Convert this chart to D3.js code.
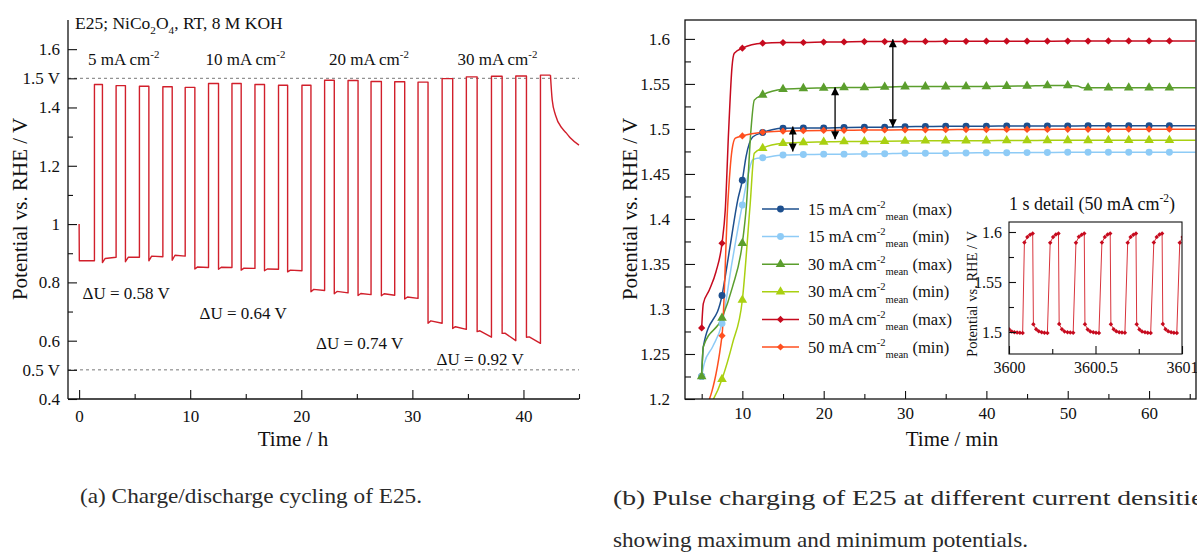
<!DOCTYPE html>
<html><head><meta charset="utf-8">
<script src="https://cdn.jsdelivr.net/npm/d3@7"></script>
<style>
html,body{margin:0;padding:0;background:#fff;}
svg, svg text{font-family:"Liberation Serif","DejaVu Serif","Times New Roman",Times,serif;}
svg{display:block;}
</style></head><body>
<svg id="fig" width="1197" height="553"></svg>
<script>
// ---------- (a) charge/discharge cycling: per-cycle readings ----------
const currentLabels = ["5", "10", "20", "30"];
const deltaU = ["0.58", "0.64", "0.74", "0.92"];
const ocvT = [0], ocvV = [1.0];
const chargeOn  = [1.38,3.33,5.43,7.54,9.55, 11.65,13.76,15.83,17.95,20.06, 22.10,24.21,26.28,28.41,30.51, 32.68,34.86,37.12,39.31,41.53];
const chargeOff = [2.10,4.17,6.28,8.38,10.42, 12.55,14.59,16.69,18.77,20.87, 22.97,25.11,27.21,29.31,31.41, 33.63,35.83,38.08,40.27,42.43];
const chargeV   = [1.479,1.475,1.473,1.471,1.469, 1.482,1.482,1.479,1.476,1.476, 1.4935,1.4925,1.489,1.488,1.487, 1.499,1.505,1.507,1.508,1.511];
const lowDip    = [0.874,0.868,0.871,0.874,0.876, 0.846,0.845,0.842,0.840,0.836, 0.768,0.761,0.755,0.754,0.743, 0.660,0.642,0.631,0.625,0.612];
const lowLevel  = [0.874,0.882,0.886,0.890,0.893, 0.853,0.852,0.849,0.846,0.842, 0.776,0.769,0.762,0.761,0.750, 0.668,0.648,0.634,0.626,0.613];
const lowEnd    = [0.874,0.886,0.886,0.888,0.890, 0.851,0.851,0.848,0.845,0.840, 0.772,0.764,0.758,0.756,0.745, 0.660,0.639,0.612,0.600,0.591];
const restT = [42.43, 42.59, 42.88, 43.49, 43.87, 44.23, 45.0];
const restV = [1.511, 1.425, 1.374, 1.328, 1.312, 1.295, 1.271];
const leftYMajor = [0.4,0.5,0.6,0.8,1.0,1.2,1.4,1.5,1.6];
const leftYMinor = [0.7,0.9,1.1,1.3];
const leftXMajor = [0,10,20,30,40];
const leftXMinor = [5,15,25,35,45];

// ---------- (b) pulse charging: max/min potentials ----------
const markerT = [5,7.5,10,12.5,15,17.5,20,22.5,25,27.5,30,32.5,35,37.5,40,42.5,45,47.5,50,52.5,55,57.5,60,62.5];
const max15 = [1.225,1.315,1.443,1.496,1.5007,1.501,1.501,1.5015,1.5018,1.502,1.5025,1.5027,1.503,1.503,1.503,1.5032,1.5032,1.5033,1.5033,1.5035,1.5035,1.5035,1.5036,1.5036];
const min15 = [1.225,1.284,1.4156,1.468,1.471,1.4715,1.472,1.472,1.4722,1.4725,1.473,1.473,1.473,1.4733,1.4735,1.4735,1.4737,1.4738,1.474,1.474,1.474,1.474,1.4742,1.4742];
const max30 = [1.225,1.29,1.373,1.5378,1.544,1.545,1.5455,1.546,1.546,1.5465,1.547,1.547,1.547,1.5472,1.5472,1.5475,1.5477,1.5482,1.5482,1.5458,1.5458,1.5458,1.5458,1.5458];
const min30 = [1.18,1.222,1.31,1.4786,1.484,1.485,1.4855,1.486,1.486,1.4863,1.4865,1.4868,1.487,1.487,1.487,1.4872,1.4872,1.4873,1.4873,1.4873,1.4874,1.4874,1.4875,1.4875];
const max50 = [1.279,1.373,1.5897,1.5952,1.5959,1.596,1.5965,1.5967,1.597,1.597,1.5972,1.5972,1.5973,1.5973,1.5975,1.5975,1.5975,1.5975,1.5976,1.5976,1.5977,1.5977,1.5977,1.5978];
const min50 = [1.18,1.2703,1.4922,1.4963,1.4975,1.498,1.4983,1.4985,1.4987,1.4988,1.499,1.499,1.4992,1.4993,1.4993,1.4994,1.4995,1.4995,1.4996,1.4996,1.4996,1.4997,1.4997,1.4997];
// extra line samples between markers (rise region and right end)
const max15Extra = [[5.2,1.258],[8.5,1.37],[9.43,1.421],[10.45,1.469],[11.27,1.491],[65.7,1.5036]];
const min15Extra = [[5.32,1.2396],[6.35,1.258],[8.7,1.35],[11.27,1.4656],[11.6,1.467],[65.7,1.4742]];
const max30Extra = [[5.2,1.258],[8.8,1.3248],[10.5,1.415],[11.06,1.499],[11.47,1.532],[51.2,1.5478],[51.8,1.5458],[65.7,1.5458]];
const min30Extra = [[8.8,1.262],[10.95,1.415],[11.47,1.473],[65.7,1.4875]];
const max50Extra = [[5.2,1.306],[5.94,1.321],[6.76,1.3414],[7.9,1.41],[8.32,1.499],[8.73,1.569],[9.01,1.584],[65.7,1.5978]];
const min50Extra = [[8.2,1.415],[8.73,1.4767],[9.14,1.4897],[65.7,1.4997]];
const legendCurrent = ["15","15","30","30","50","50"];
const legendKind = ["max","min","max","min","max","min"];
const arrowT = [16.2, 21.4, 28.5];
const arrowTop = [1.5026, 1.5463, 1.5997];
const arrowBottom = [1.4748, 1.4885, 1.5019];
const rightYMajor = [1.2,1.25,1.3,1.35,1.4,1.45,1.5,1.55,1.6];
const rightYMinor = [1.225,1.275,1.325,1.375,1.425,1.475,1.525,1.575];
const rightXMajor = [10,20,30,40,50,60];
const rightXMinor = [5,15,25,35,45,55,65];

// ---------- inset: 1 s detail at 50 mA cm-2 ----------
const insetT = [3600.000,3600.016,3600.031,3600.047,3600.063,3600.079,
  3600.089,3600.106,3600.122,3600.137,3600.141,3600.157,3600.172,3600.189,3600.205,3600.222,
  3600.238,3600.255,3600.271,3600.286,3600.290,3600.306,3600.321,3600.338,3600.354,3600.371,
  3600.387,3600.404,3600.420,3600.435,3600.439,3600.455,3600.470,3600.487,3600.503,3600.520,
  3600.537,3600.554,3600.570,3600.585,3600.589,3600.605,3600.620,3600.637,3600.653,3600.670,
  3600.686,3600.703,3600.719,3600.734,3600.738,3600.754,3600.769,3600.786,3600.802,3600.819,
  3600.837,3600.854,3600.870,3600.885,3600.889,3600.905,3600.920,3600.937,3600.953,3600.970,
  3600.987,3601.004];
const insetV = [1.5027,1.5005,1.4998,1.4994,1.4992,1.4991,
  1.5894,1.5950,1.5973,1.5984,1.5077,1.5027,1.5007,1.4997,1.4993,1.4991,
  1.5892,1.5951,1.5974,1.5985,1.5079,1.5028,1.5006,1.4998,1.4994,1.4992,
  1.5893,1.5952,1.5973,1.5984,1.5078,1.5026,1.5006,1.4997,1.4993,1.4991,
  1.5894,1.5951,1.5974,1.5985,1.5078,1.5027,1.5007,1.4998,1.4994,1.4992,
  1.5893,1.5950,1.5973,1.5984,1.5077,1.5026,1.5006,1.4997,1.4993,1.4991,
  1.5894,1.5951,1.5974,1.5985,1.5079,1.5027,1.5007,1.4998,1.4993,1.4991,
  1.5893,1.5950];
const insetYMajor = [1.5,1.55,1.6], insetYMinor = [1.525,1.575];
const insetXMajor = [3600,3600.5,3601], insetXMinor = [3600.25,3600.75];

// ---------------------------------------------------------------
const SERIF = "'Liberation Serif','DejaVu Serif','Times New Roman',Times,serif";
const svg = d3.select("#fig").attr("font-family", SERIF);
const INK = "#111";

function rich(text, parts, base) {
  let shift = 0;
  parts.forEach(([s, kind]) => {
    const target = kind === "sup" ? -base * 0.42 : kind === "sub" ? base * 0.32 : 0;
    text.append("tspan").attr("dy", target - shift)
      .attr("font-size", kind === "n" ? base : base * 0.64).text(s);
    shift = target;
  });
}

function styleAxis(g, size) {
  g.attr("font-family", SERIF).attr("font-size", null);
  g.select(".domain").remove();
  g.selectAll(".tick line").attr("stroke", INK).attr("stroke-width", 1.1);
  g.selectAll(".tick text").attr("fill", INK).attr("font-size", size);
}

// ================= panel (a) =================
const xL = d3.scaleLinear([-1, 45], [68, 579]);
const yL = d3.scaleLinear([0.4, 1.7], [399, 20]);
const gA = svg.append("g");

// reference lines at 1.5 V and 0.5 V
gA.selectAll("line.ref").data([1.5, 0.5]).join("line")
  .attr("x1", xL(-1)).attr("x2", xL(45))
  .attr("y1", d => yL(d)).attr("y2", d => yL(d))
  .attr("stroke", "#777").attr("stroke-width", 1).attr("stroke-dasharray", "3,3");

const fmtL = d => (d === 1.5 || d === 0.5) ? d3.format(".1f")(d) + " V" : (d === 1 ? "1" : d3.format(".1f")(d));
const ayL = gA.append("g").attr("transform", `translate(${xL(-1)},0)`)
  .call(d3.axisLeft(yL).tickValues(leftYMajor).tickSize(-9).tickPadding(8).tickFormat(fmtL));
styleAxis(ayL, 17);
const ayL2 = gA.append("g").attr("transform", `translate(${xL(-1)},0)`)
  .call(d3.axisLeft(yL).tickValues(leftYMinor).tickSize(-5).tickFormat(""));
styleAxis(ayL2, 17);
const axL = gA.append("g").attr("transform", `translate(0,${yL(0.4)})`)
  .call(d3.axisBottom(xL).tickValues(leftXMajor).tickSize(-9).tickPadding(11).tickFormat(d3.format("d")));
styleAxis(axL, 17);
const axL2 = gA.append("g").attr("transform", `translate(0,${yL(0.4)})`)
  .call(d3.axisBottom(xL).tickValues(leftXMinor).tickSize(-5).tickFormat(""));
styleAxis(axL2, 17);
gA.append("line").attr("x1", xL(-1)).attr("x2", xL(-1)).attr("y1", yL(1.7)).attr("y2", yL(0.4))
  .attr("stroke", INK).attr("stroke-width", 1.3);
gA.append("line").attr("x1", xL(-1)).attr("x2", xL(45)).attr("y1", yL(0.4)).attr("y2", yL(0.4))
  .attr("stroke", INK).attr("stroke-width", 1.3);

// cycling trace assembled from the per-cycle readings
const cyc = [[ocvT[0], ocvV[0]], [ocvT[0] + 0.02, lowDip[0]]];
chargeOn.forEach((on, i) => {
  if (i > 0) {
    cyc.push([chargeOff[i - 1], lowDip[i]]);
    cyc.push([chargeOff[i - 1] + 0.25, lowLevel[i]]);
  }
  cyc.push([on, lowEnd[i]]);
  cyc.push([on, chargeV[i]]);
  cyc.push([chargeOff[i], chargeV[i]]);
});
const lineL = d3.line().x(d => xL(d[0])).y(d => yL(d[1]));
gA.append("path").attr("d", lineL(cyc)).attr("fill", "none")
  .attr("stroke", "#d11f2b").attr("stroke-width", 1.4).attr("stroke-linejoin", "round");
gA.append("path").attr("d", lineL.curve(d3.curveMonotoneX)(restT.map((t, i) => [t, restV[i]])))
  .attr("fill", "none").attr("stroke", "#d11f2b").attr("stroke-width", 1.4);

// annotations
const ttl = gA.append("text").attr("x", 75).attr("y", 28.5).attr("fill", INK);
rich(ttl, [["E25; NiCo","n"],["2","sub"],["O","n"],["4","sub"],[", RT, 8 M KOH","n"]], 17.5);
const curX = [88, 205.5, 329, 457.5];
currentLabels.forEach((c, i) => {
  const t = gA.append("text").attr("x", curX[i]).attr("y", 65).attr("fill", INK);
  rich(t, [[c + " mA cm","n"],["-2","sup"]], 17);
});
const duPos = [[82.5, 298.5], [199.5, 318.5], [316, 348.5], [436.5, 365]];
deltaU.forEach((u, i) => {
  gA.append("text").attr("x", duPos[i][0]).attr("y", duPos[i][1]).attr("fill", INK)
    .attr("font-size", 17).text("\u0394U = " + u + " V");
});
gA.append("text").attr("transform", "translate(27,209) rotate(-90)").attr("text-anchor", "middle")
  .attr("font-size", 21).attr("fill", INK).text("Potential vs. RHE / V");
gA.append("text").attr("x", 293).attr("y", 446).attr("text-anchor", "middle")
  .attr("font-size", 21).attr("fill", INK).text("Time / h");

// ================= panel (b) =================
const xR = d3.scaleLinear([2.95, 65.77], [685, 1196]);
const yR = d3.scaleLinear([1.2, 1.621], [399, 20]);
const gB = svg.append("g");
const defs = svg.append("defs");
defs.append("clipPath").attr("id", "clipR")
  .append("rect").attr("x", 685).attr("y", 20).attr("width", 511).attr("height", 379);

const series = [
  { v: max15, extra: max15Extra, color: "#1d4f8e", shape: "circle" },
  { v: min15, extra: min15Extra, color: "#8ecbf6", shape: "circle" },
  { v: max30, extra: max30Extra, color: "#5b9e2d", shape: "triangle" },
  { v: min30, extra: min30Extra, color: "#a9d011", shape: "triangle" },
  { v: max50, extra: max50Extra, color: "#c60a1e", shape: "diamond" },
  { v: min50, extra: min50Extra, color: "#ff4f1f", shape: "diamond" }
];
const symbolOf = s => s === "circle" ? d3.symbol(d3.symbolCircle, 38)
  : s === "triangle" ? d3.symbol(d3.symbolTriangle, 40) : d3.symbol(d3.symbolSquare, 26);
const rotOf = s => s === "diamond" ? " rotate(45)" : "";

const plotB = gB.append("g").attr("clip-path", "url(#clipR)");
const lineR = d3.line().x(d => xR(d[0])).y(d => yR(d[1])).curve(d3.curveMonotoneX);
series.forEach(s => {
  const pts = markerT.map((t, i) => [t, s.v[i]]).concat(s.extra).sort((a, b) => a[0] - b[0]);
  plotB.append("path").attr("d", lineR(pts)).attr("fill", "none")
    .attr("stroke", s.color).attr("stroke-width", 1.5);
});
series.forEach(s => {
  plotB.selectAll(null).data(markerT.map((t, i) => [t, s.v[i]])).join("path")
    .attr("d", symbolOf(s.shape))
    .attr("transform", d => `translate(${xR(d[0])},${yR(d[1])})${rotOf(s.shape)}`)
    .attr("fill", s.color);
});

// difference arrows
defs.append("marker").attr("id", "ah").attr("viewBox", "0 0 10 10")
  .attr("refX", 10).attr("refY", 5).attr("markerWidth", 9).attr("markerHeight", 8)
  .attr("markerUnits", "userSpaceOnUse").attr("orient", "auto-start-reverse")
  .append("path").attr("d", "M0,0 L10,5 L0,10 z").attr("fill", "#000");
arrowT.forEach((t, i) => {
  gB.append("line").attr("x1", xR(t)).attr("x2", xR(t))
    .attr("y1", yR(arrowTop[i])).attr("y2", yR(arrowBottom[i]))
    .attr("stroke", "#000").attr("stroke-width", 1.3)
    .attr("marker-start", "url(#ah)").attr("marker-end", "url(#ah)");
});

// axes and frame
const ayR = gB.append("g").attr("transform", `translate(685,0)`)
  .call(d3.axisLeft(yR).tickValues(rightYMajor).tickSize(-10).tickPadding(15).tickFormat(d => String(+d.toFixed(2))));
styleAxis(ayR, 17);
const ayR2 = gB.append("g").attr("transform", `translate(685,0)`)
  .call(d3.axisLeft(yR).tickValues(rightYMinor).tickSize(-6).tickFormat(""));
styleAxis(ayR2, 17);
const axR = gB.append("g").attr("transform", `translate(0,399)`)
  .call(d3.axisBottom(xR).tickValues(rightXMajor).tickSize(-8).tickPadding(8).tickFormat(d3.format("d")));
styleAxis(axR, 17);
const axR2 = gB.append("g").attr("transform", `translate(0,399)`)
  .call(d3.axisBottom(xR).tickValues(rightXMinor).tickSize(-5).tickFormat(""));
styleAxis(axR2, 17);
gB.append("rect").attr("x", 685).attr("y", 20).attr("width", 511).attr("height", 379)
  .attr("fill", "none").attr("stroke", INK).attr("stroke-width", 1.3);

gB.append("text").attr("transform", "translate(637,209) rotate(-90)").attr("text-anchor", "middle")
  .attr("font-size", 21).attr("fill", INK).text("Potential vs. RHE / V");
gB.append("text").attr("x", 952).attr("y", 446).attr("text-anchor", "middle")
  .attr("font-size", 21).attr("fill", INK).text("Time / min");

// legend
series.forEach((s, i) => {
  const y = 209 + i * 27.6;
  gB.append("line").attr("x1", 762).attr("x2", 799).attr("y1", y).attr("y2", y)
    .attr("stroke", s.color).attr("stroke-width", 1.5);
  gB.append("path").attr("d", symbolOf(s.shape)).attr("fill", s.color)
    .attr("transform", `translate(780.5,${y})${rotOf(s.shape)}`);
  const t = gB.append("text").attr("x", 808).attr("y", y + 5.5).attr("fill", INK);
  rich(t, [[legendCurrent[i] + " mA cm","n"],["-2","sup"],["mean","sub"],[" (" + legendKind[i] + ")","n"]], 16.5);
});

// inset
const xI = d3.scaleLinear([3600, 3601], [1009, 1182]);
const yI = d3.scaleLinear([1.478, 1.61], [354, 222]);
const gI = svg.append("g");
defs.append("clipPath").attr("id", "clipI").append("rect")
  .attr("x", 1009).attr("y", 222).attr("width", 173).attr("height", 132);
gI.append("rect").attr("x", 1009).attr("y", 222).attr("width", 173).attr("height", 132).attr("fill", "#fff");
const insetPts = insetT.map((t, i) => [t, insetV[i]]);
const pI = gI.append("g").attr("clip-path", "url(#clipI)");
pI.append("path").attr("d", d3.line().x(d => xI(d[0])).y(d => yI(d[1]))(insetPts))
  .attr("fill", "none").attr("stroke", "#d8343c").attr("stroke-width", 1);
pI.selectAll(null).data(insetPts).join("path")
  .attr("d", d3.symbol(d3.symbolSquare, 10))
  .attr("transform", d => `translate(${xI(d[0])},${yI(d[1])}) rotate(45)`)
  .attr("fill", "#c60a1e");
const ayI = gI.append("g").attr("transform", "translate(1009,0)")
  .call(d3.axisLeft(yI).tickValues(insetYMajor).tickSize(-7).tickPadding(7).tickFormat(d => String(+d.toFixed(2))));
styleAxis(ayI, 16);
const ayI2 = gI.append("g").attr("transform", "translate(1009,0)")
  .call(d3.axisLeft(yI).tickValues(insetYMinor).tickSize(-5).tickFormat(""));
styleAxis(ayI2, 16);
const axI = gI.append("g").attr("transform", "translate(0,354)")
  .call(d3.axisBottom(xI).tickValues(insetXMajor).tickSize(-8).tickPadding(8).tickFormat(d => String(+d.toFixed(1))));
styleAxis(axI, 16);
const axI2 = gI.append("g").attr("transform", "translate(0,354)")
  .call(d3.axisBottom(xI).tickValues(insetXMinor).tickSize(-5).tickFormat(""));
styleAxis(axI2, 16);
gI.append("rect").attr("x", 1009).attr("y", 222).attr("width", 173).attr("height", 132)
  .attr("fill", "none").attr("stroke", INK).attr("stroke-width", 1.1);
gI.append("text").attr("transform", "translate(977,294) rotate(-90)").attr("text-anchor", "middle")
  .attr("font-size", 14.5).attr("fill", INK).text("Potential vs. RHE / V");
const it = gI.append("text").attr("x", 1009).attr("y", 210).attr("fill", INK);
rich(it, [["1 s detail (50 mA cm","n"],["-2","sup"],[")","n"]], 18);

// captions
const cap = svg.append("g").attr("fill", "#2a2a2a").attr("font-size", 21.5);
cap.append("text").attr("x", 80).attr("y", 503).attr("textLength", 342).attr("lengthAdjust", "spacingAndGlyphs")
  .text("(a) Charge/discharge cycling of E25.");
cap.append("text").attr("x", 613).attr("y", 505).attr("textLength", 601).attr("lengthAdjust", "spacingAndGlyphs")
  .text("(b) Pulse charging of E25 at different current densities");
cap.append("text").attr("x", 613).attr("y", 547).attr("textLength", 415).attr("lengthAdjust", "spacingAndGlyphs")
  .text("showing maximum and minimum potentials.");
</script>
</body></html>
